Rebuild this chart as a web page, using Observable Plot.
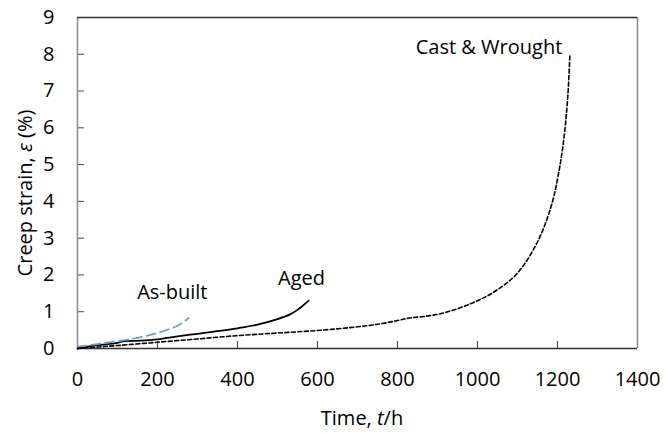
<!DOCTYPE html>
<html>
<head>
<meta charset="utf-8">
<script src="https://cdn.jsdelivr.net/npm/d3@7"></script>
<script src="https://cdn.jsdelivr.net/npm/@observablehq/plot@0.6"></script>
<style>
  html, body { margin: 0; padding: 0; background: #fff; }
  #chart svg { display: block; }
</style>
</head>
<body>
<div id="chart"></div>
<script>
// ---- data ----
const castTime   = [0, 50, 100, 200, 300, 400, 500, 600, 700, 757, 800, 830, 866, 920, 1000, 1050, 1100, 1150, 1185, 1205, 1218, 1226, 1231];
const castStrain = [0, 0.04, 0.08, 0.17, 0.26, 0.35, 0.42, 0.49, 0.59, 0.67, 0.76, 0.83, 0.87, 0.98, 1.30, 1.60, 2.05, 2.90, 3.90, 4.90, 5.90, 6.90, 7.99];

const agedTime   = [0, 25, 50, 100, 110, 150, 200, 250, 300, 350, 400, 450, 500, 530, 550, 565, 578];
const agedStrain = [0, 0.05, 0.09, 0.15, 0.19, 0.21, 0.25, 0.33, 0.40, 0.47, 0.55, 0.65, 0.80, 0.92, 1.05, 1.18, 1.30];

const builtTime   = [0, 50, 100, 150, 200, 250, 278];
const builtStrain = [0.05, 0.12, 0.20, 0.29, 0.42, 0.62, 0.83];

const seriesLabels = ["As-built", "Aged", "Cast & Wrought"];
const labelTime    = [237, 560, 1212];
const labelStrain  = [1.53, 1.90, 8.18];

const xTicks = [0, 200, 400, 600, 800, 1000, 1200, 1400];
const yTicks = [0, 1, 2, 3, 4, 5, 6, 7, 8, 9];

// ---- build tables ----
const cast  = castTime.map((t, i) => ({t, v: castStrain[i]}));
const aged  = agedTime.map((t, i) => ({t, v: agedStrain[i]}));
const built = builtTime.map((t, i) => ({t, v: builtStrain[i]}));
const labels = seriesLabels.map((s, i) => ({s, t: labelTime[i], v: labelStrain[i]}));

const font = "'Open Sans', sans-serif";
const fs = 20;

const plot = Plot.plot({
  width: 666,
  height: 433,
  marginLeft: 77,
  marginRight: 29,
  marginTop: 17,
  marginBottom: 85,
  style: {fontFamily: font, fontSize: fs + "px", color: "#000", background: "#fff"},
  x: {domain: [0, 1400], label: null},
  y: {domain: [0, 9], label: null},
  marks: [
    Plot.axisX({ticks: xTicks, tickFormat: d3.format("d"), tickSize: -7, tickPadding: 30, stroke: "#444", fontSize: fs, fill: "#000", label: null}),
    Plot.axisY({ticks: yTicks, tickFormat: d3.format("d"), tickSize: -7, tickPadding: 30, stroke: "#444", fontSize: fs, fill: "#000", label: null}),
    Plot.ruleX([0, 1400], {stroke: "#8a8a8a", strokeWidth: 1.5}),
    Plot.ruleY([0, 9], {stroke: "#333", strokeWidth: 1.5}),
    Plot.line(cast, {x: "t", y: "v", stroke: "#000", strokeWidth: 1.6, strokeDasharray: "4,2.5", curve: "catmull-rom"}),
    Plot.line(aged, {x: "t", y: "v", stroke: "#000", strokeWidth: 1.8, curve: "catmull-rom"}),
    Plot.line(built, {x: "t", y: "v", stroke: "#6a9fd8", strokeWidth: 1.8, strokeDasharray: "9,5", curve: "catmull-rom"}),
    Plot.text(labels.filter(d => d.s !== "Cast & Wrought"), {x: "t", y: "v", text: "s", fontSize: fs, fill: "#000", textAnchor: "middle"}),
    Plot.text(labels.filter(d => d.s === "Cast & Wrought"), {x: "t", y: "v", text: "s", fontSize: fs, fill: "#000", textAnchor: "end"})
  ]
});

const svg = d3.select(plot);
// axis titles with italic symbols
const xt = svg.append("text")
  .attr("x", 362).attr("y", 420)
  .attr("text-anchor", "middle").attr("dominant-baseline", "middle")
  .attr("font-family", font).attr("font-size", fs).attr("fill", "#000");
xt.append("tspan").text("Time, ");
xt.append("tspan").attr("font-style", "italic").text("t");
xt.append("tspan").text("/h");

const yt = svg.append("text")
  .attr("transform", "translate(27,193) rotate(-90)")
  .attr("text-anchor", "middle").attr("dominant-baseline", "middle")
  .attr("font-family", font).attr("font-size", fs).attr("fill", "#000");
yt.append("tspan").text("Creep strain, ");
yt.append("tspan").attr("font-style", "italic").text("ε");
yt.append("tspan").text(" (%)");

document.getElementById("chart").appendChild(plot);
</script>
</body>
</html>
